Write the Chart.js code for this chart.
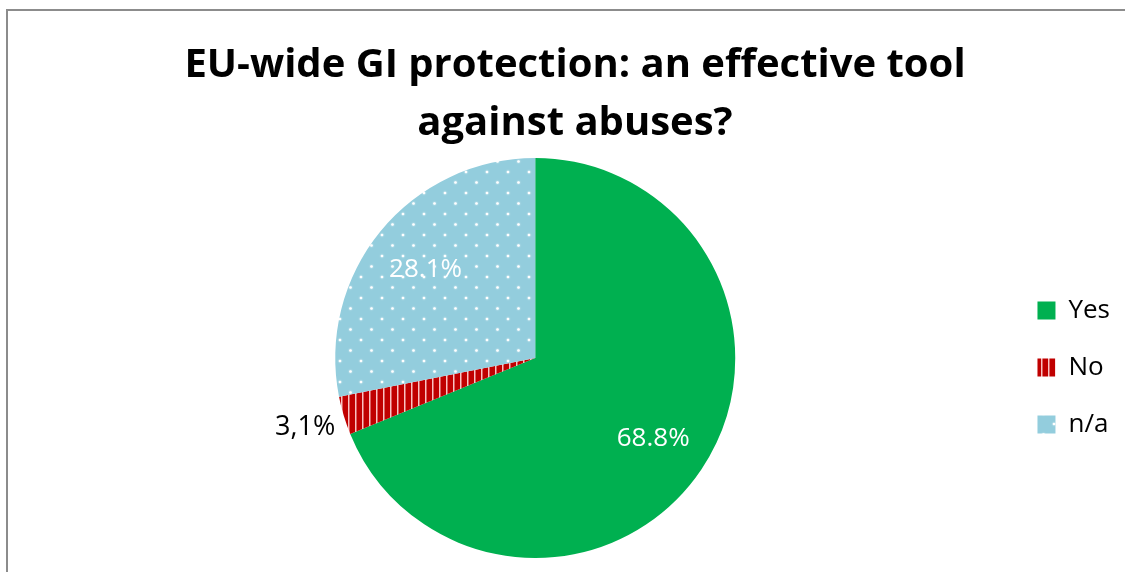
<!DOCTYPE html>
<html>
<head>
<meta charset="utf-8">
<script src="https://cdn.jsdelivr.net/npm/chart.js@4.4.1/dist/chart.umd.min.js"></script>
<style>
  html, body { margin: 0; padding: 0; background: #fff; overflow: hidden; }
  #wrap { position: relative; width: 1125px; height: 572px; }
  #frame { position: absolute; left: 6px; top: 9px; width: 1200px; height: 700px; border: 2px solid #8c8c8c; box-sizing: border-box; }
  canvas { position: absolute; left: 0; top: 0; }
</style>
</head>
<body>
<div id="wrap">
  <div id="frame"></div>
  <canvas id="chart" width="1125" height="572"></canvas>
</div>
<script>
const titleLines = ['EU-wide GI protection: an effective tool', 'against abuses?'];
const categories = ['Yes', 'No', 'n/a'];
const shares = [68.8, 3.1, 28.1];
const shareLabels = ['68.8%', '3,1%', '28.1%'];

const FONT = '"Open Sans", "Liberation Sans", sans-serif';

// striped fill for "No"
function stripePattern() {
  const c = document.createElement('canvas');
  c.width = 7; c.height = 7;
  const g = c.getContext('2d');
  g.fillStyle = '#c00000'; g.fillRect(0, 0, 7, 7);
  g.fillStyle = 'rgba(255,215,215,0.9)'; g.fillRect(5, 0, 1.5, 7);
  return g.createPattern(c, 'repeat');
}

// dotted fill for "n/a"
function dotPattern() {
  const s = 21;
  const c = document.createElement('canvas');
  c.width = s; c.height = s;
  const g = c.getContext('2d');
  g.fillStyle = '#93cddd'; g.fillRect(0, 0, s, s);
  g.fillStyle = '#fff';
  g.shadowColor = 'rgba(255,255,255,0.9)';
  g.shadowBlur = 2;
  [[4, 4], [4 + s / 2, 4 + s / 2]].forEach(([x, y]) => {
    g.beginPath(); g.arc(x, y, 1.3, 0, Math.PI * 2); g.fill();
  });
  return g.createPattern(c, 'repeat');
}

const fills = ['#00b050', stripePattern(), dotPattern()];

const sliceLabels = {
  id: 'sliceLabels',
  afterDatasetsDraw(chart) {
    const { ctx } = chart;
    const meta = chart.getDatasetMeta(0);
    ctx.save();
    ctx.textBaseline = 'middle';
    meta.data.forEach((arc, i) => {
      const p = arc.getProps(['x', 'y', 'startAngle', 'endAngle', 'outerRadius'], true);
      const mid = (p.startAngle + p.endAngle) / 2;
      if (shares[i] < 5) {
        const r = p.outerRadius + 12;
        ctx.font = '27px ' + FONT;
        ctx.fillStyle = '#000';
        ctx.textAlign = 'right';
        ctx.fillText(shareLabels[i], p.x + Math.cos(mid) * r + 3, p.y + Math.sin(mid) * r + 8);
      } else {
        const r = p.outerRadius * 0.71;
        ctx.font = '26px ' + FONT;
        ctx.fillStyle = '#fff';
        ctx.textAlign = 'center';
        ctx.fillText(shareLabels[i], p.x + Math.cos(mid) * r, p.y + Math.sin(mid) * r + 2);
      }
    });
    ctx.restore();
  }
};

// the title in the original sits centred on the whole frame, not on the plot + legend box
const titleNudge = {
  id: 'titleNudge',
  afterLayout(chart) {
    const t = chart.titleBlock;
    if (t) { t.left -= 17; t.right -= 17; }
  }
};

new Chart(document.getElementById('chart'), {
  type: 'pie',
  data: {
    labels: categories,
    datasets: [{ data: shares, backgroundColor: fills, borderWidth: 0 }]
  },
  options: {
    responsive: false,
    animation: false,
    layout: { padding: { top: 37, bottom: 14, left: 64, right: 5 } },
    plugins: {
      title: {
        display: true,
        text: titleLines,
        color: '#000',
        font: { family: FONT, size: 40, weight: 'bold', lineHeight: '58px' },
        padding: { top: 0, bottom: 5 }
      },
      legend: {
        position: 'right',
        title: { display: true, text: '', font: { size: 10, lineHeight: '10px' }, padding: { top: 0, bottom: 130 } },
        labels: {
          color: '#000',
          font: { family: FONT, size: 26 },
          boxWidth: 18,
          boxHeight: 18,
          padding: 31
        }
      },
      tooltip: { enabled: false }
    }
  },
  plugins: [sliceLabels, titleNudge]
});
</script>
</body>
</html>
